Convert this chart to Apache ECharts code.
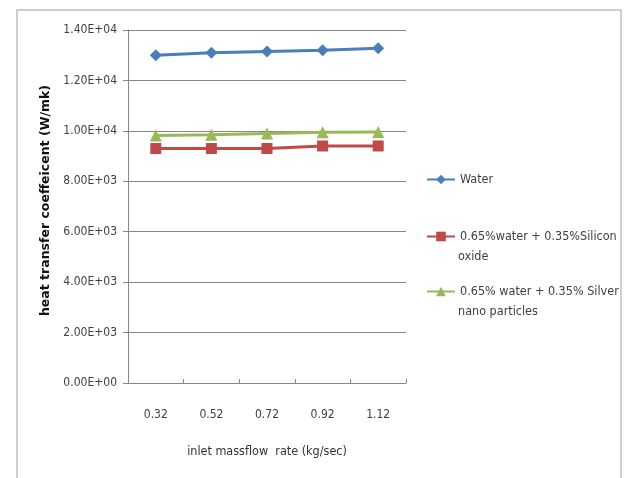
<!DOCTYPE html>
<html>
<head>
<meta charset="utf-8">
<script src="https://cdn.jsdelivr.net/npm/echarts@6/dist/echarts.min.js"></script>
<style>html,body{margin:0;padding:0;background:#fff}#c{width:625px;height:478px}</style>
</head>
<body>
<div id="c"></div>
<script>
var categories = ['0.32', '0.52', '0.72', '0.92', '1.12'];
var waterValues = [13000, 13100, 13150, 13200, 13280];
var siliconValues = [9300, 9300, 9300, 9400, 9400];
var silverValues = [9820, 9850, 9900, 9940, 9950];
var seriesNames = ['Water', '0.65%water + 0.35%Silicon oxide', '0.65% water + 0.35% Silver nano particles'];
var legendFirstLines = ['Water', '0.65%water + 0.35%Silicon', '0.65% water + 0.35% Silver'];
var legendSecondLines = ['', 'oxide', 'nano particles'];
var yMin = 0, yMax = 14000, yStep = 2000;

var FONT = '"DejaVu Sans Condensed", "Liberation Sans Narrow", "Liberation Sans", Arial, sans-serif';
function sci(v) {
  if (v === 0) return '0.00E+00';
  var e = Math.floor(Math.log10(Math.abs(v)));
  var m = v / Math.pow(10, e);
  var es = (e < 0 ? '-' : '+') + (Math.abs(e) < 10 ? '0' : '') + Math.abs(e);
  return m.toFixed(2) + 'E' + es;
}
var colors = ['#4a7ebb', '#be4b48', '#98b954'];
var symbols = ['diamond', 'rect', 'triangle'];
var symSizes = [12, 11, 12];
var dataSets = [waterValues, siliconValues, silverValues];
var legendTops = [173, 230, 285];

var chart = echarts.init(document.getElementById('c'), null, {renderer: 'canvas'});
var legends = seriesNames.map(function (n, i) {
  return {
    data: [n], left: 426, top: legendTops[i], orient: 'vertical', padding: 0,
    itemWidth: 28, itemHeight: 12, itemGap: 4,
    textStyle: {fontFamily: FONT, fontSize: 12.5, color: '#404040'},
    formatter: function () { return legendFirstLines[i]; }
  };
});
var graphics = [{
  type: 'rect', shape: {x: 17, y: 10, width: 604, height: 490},
  style: {fill: 'none', stroke: '#c0c0c0', lineWidth: 1.5}, silent: true
}];
legendSecondLines.forEach(function (t, i) {
  if (!t) return;
  graphics.push({
    type: 'text', left: 458, top: legendTops[i] + 20,
    style: {text: t, font: '12.5px ' + FONT, fill: '#404040'}
  });
});
chart.setOption({
  animation: false,
  backgroundColor: '#fff',
  color: colors,
  graphic: graphics,
  legend: legends,
  grid: {left: 128, right: 219, top: 30, bottom: 95},
  xAxis: {
    type: 'category', data: categories, boundaryGap: true,
    name: 'inlet massflow  rate (kg/sec)', nameLocation: 'middle', nameGap: 62,
    nameTextStyle: {fontFamily: FONT, fontSize: 12.5, color: '#333'},
    axisLine: {lineStyle: {color: '#868686', width: 1}},
    axisTick: {show: true, length: 4, inside: true, lineStyle: {color: '#868686'}},
    axisLabel: {fontFamily: FONT, fontSize: 12, color: '#404040', margin: 26}
  },
  yAxis: {
    type: 'value', min: yMin, max: yMax, interval: yStep,
    name: 'heat transfer coeffeicent (W/mk)', nameLocation: 'middle', nameGap: 76,
    nameTextStyle: {fontFamily: '"DejaVu Sans", Arial, sans-serif', fontSize: 12.5, fontWeight: 'bold', color: '#111', padding: [0, 0, 0, 12]},
    axisLine: {show: true, lineStyle: {color: '#868686', width: 1}},
    axisTick: {show: true, length: 5, lineStyle: {color: '#868686'}},
    splitLine: {lineStyle: {color: '#868686', width: 1}},
    axisLabel: {fontFamily: FONT, fontSize: 12, color: '#404040', margin: 11, formatter: sci}
  },
  series: seriesNames.map(function (n, i) {
    return {
      name: n, type: 'line', data: dataSets[i],
      symbol: symbols[i], symbolSize: symSizes[i], z: 3 - i + 2,
      lineStyle: {width: 3, color: colors[i]},
      itemStyle: {color: colors[i]}
    };
  })
});
</script>
</body>
</html>
